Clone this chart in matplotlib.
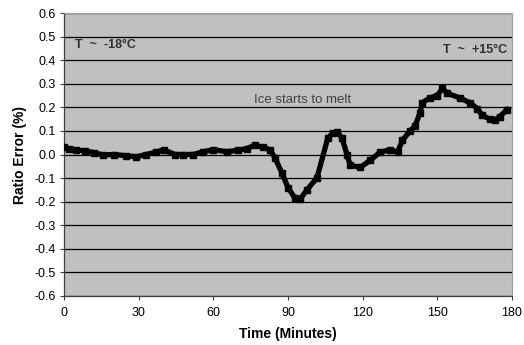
import matplotlib.pyplot as plt
from matplotlib.ticker import MultipleLocator, FormatStrFormatter

plt.rcParams["font.family"] = ["Liberation Sans", "DejaVu Sans"]

# Time (minutes) and ratio error (%)
minutes = [0, 2, 5, 8.4, 12, 15.7, 20, 25, 29, 33, 37, 40, 44.6, 48, 52, 56,
           60, 65.5, 70, 73.5, 76.7, 80, 82.8, 84.8, 87.6, 90, 92.8, 94.8,
           97.6, 101.6, 106, 108, 109.7, 111.7, 113.7, 115, 119, 123, 127,
           131, 134, 136, 139, 141, 143, 144, 147, 150, 152, 154, 159, 163,
           166, 168, 171, 173, 175, 178]
ratio_error = [0.03, 0.025, 0.02, 0.015, 0.008, -0.002, 0.0, -0.005, -0.01,
               0.0, 0.01, 0.02, 0.0, 0.0, 0.0, 0.012, 0.02, 0.012, 0.018,
               0.025, 0.04, 0.03, 0.02, -0.015, -0.08, -0.14, -0.185, -0.19,
               -0.15, -0.1, 0.07, 0.09, 0.095, 0.07, 0.0, -0.045, -0.055,
               -0.025, 0.01, 0.02, 0.01, 0.06, 0.1, 0.12, 0.175, 0.22, 0.24,
               0.25, 0.28, 0.26, 0.24, 0.22, 0.195, 0.167, 0.15, 0.145, 0.16,
               0.19]

fig = plt.figure(figsize=(5.24, 3.45), dpi=100)
ax = fig.add_axes([64 / 524, 1 - 296 / 345, 448 / 524, 283 / 345])
ax.set_facecolor("#c0c0c0")

ax.plot(minutes, ratio_error, color="black", lw=3.8, marker="s",
        markersize=4.5, solid_joinstyle="round", zorder=3)

ax.set_xlim(0, 180)
ax.set_ylim(-0.6, 0.6)
ax.xaxis.set_major_locator(MultipleLocator(30))
ax.yaxis.set_major_locator(MultipleLocator(0.1))
ax.yaxis.set_major_formatter(FormatStrFormatter("%.1f"))
ax.grid(axis="y", color="black", lw=0.9)
ax.set_axisbelow(True)

for side in ["top", "right"]:
    ax.spines[side].set_color("#a0a0a0")
    ax.spines[side].set_linewidth(0.8)
for side in ["left", "bottom"]:
    ax.spines[side].set_color("#404040")
    ax.spines[side].set_linewidth(0.9)

ax.tick_params(labelsize=9, length=3, width=0.8, color="#404040", pad=3)
ax.tick_params(axis="x", pad=5)

ax.set_xlabel("Time (Minutes)", fontsize=10, fontweight="bold", labelpad=6)
ax.set_ylabel("Ratio Error (%)", fontsize=10, fontweight="bold", labelpad=5)

ax.text(4.5, 0.465, "T  ~  -18°C", fontsize=9, fontweight="bold",
        color="#303030", va="center", ha="left")
ax.text(178, 0.445, "T  ~  +15°C", fontsize=9, fontweight="bold",
        color="#303030", va="center", ha="right")
ax.text(96, 0.23, "Ice starts to melt", fontsize=9.5, color="#404040",
        va="center", ha="center")

fig.savefig("out.png", dpi=100)
